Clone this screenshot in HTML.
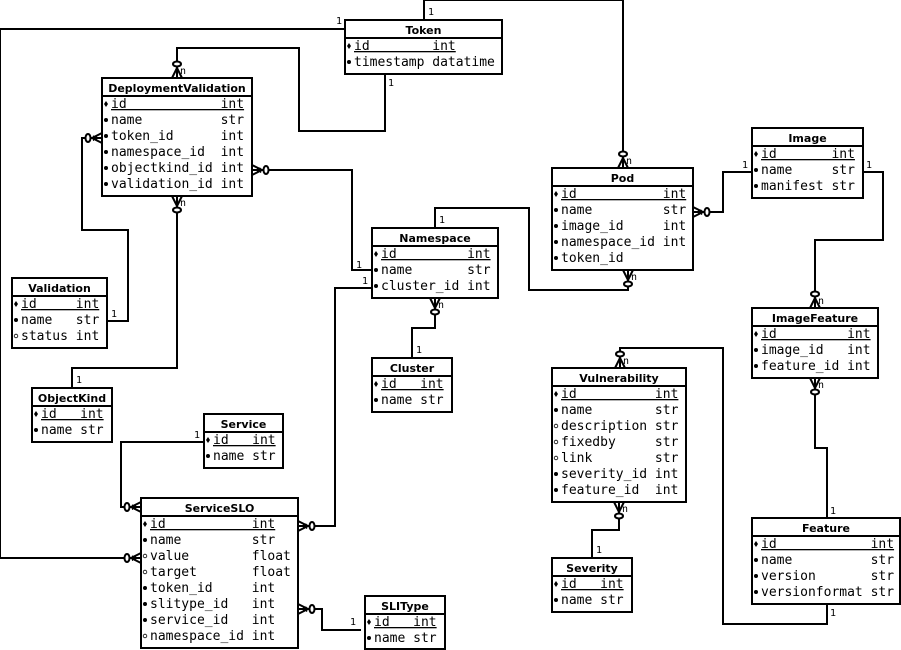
<!DOCTYPE html>
<html><head><meta charset="utf-8"><style>
html,body{margin:0;padding:0;background:#fff;}
svg{display:block;}
.t{font-family:"DejaVu Sans","Liberation Sans",sans-serif;font-weight:bold;font-size:11px;}
.r{font-family:"DejaVu Sans Mono","Liberation Mono",monospace;font-size:13px;white-space:pre;}
.l{font-family:"DejaVu Sans Mono","Liberation Mono",monospace;font-size:10px;}
</style></head><body>
<svg id="s" width="901" height="650" viewBox="0 0 901 650" xmlns="http://www.w3.org/2000/svg"></svg>
<script>
var S=document.getElementById('s'),h='';
var T=[
[345,20,157,54,'Token',[['d','id','int'],['b','timestamp','datatime']]],
[102,78,150,118,'DeploymentValidation',[['d','id','int'],['b','name','str'],['b','token_id','int'],['b','namespace_id','int'],['b','objectkind_id','int'],['b','validation_id','int']]],
[12,278,95,70,'Validation',[['d','id','int'],['b','name','str'],['o','status','int']]],
[32,388,80,54,'ObjectKind',[['d','id','int'],['b','name','str']]],
[204,414,79,54,'Service',[['d','id','int'],['b','name','str']]],
[141,498,157,150,'ServiceSLO',[['d','id','int'],['b','name','str'],['o','value','float'],['o','target','float'],['b','token_id','int'],['b','slitype_id','int'],['b','service_id','int'],['o','namespace_id','int']]],
[365,596,80,53,'SLIType',[['d','id','int'],['b','name','str']]],
[372,228,126,70,'Namespace',[['d','id','int'],['b','name','str'],['b','cluster_id','int']]],
[372,358,80,54,'Cluster',[['d','id','int'],['b','name','str']]],
[552,168,141,102,'Pod',[['d','id','int'],['b','name','str'],['b','image_id','int'],['b','namespace_id','int'],['b','token_id','']]],
[752,128,111,70,'Image',[['d','id','int'],['b','name','str'],['b','manifest','str']]],
[752,308,126,70,'ImageFeature',[['d','id','int'],['b','image_id','int'],['b','feature_id','int']]],
[552,368,134,134,'Vulnerability',[['d','id','int'],['b','name','str'],['o','description','str'],['o','fixedby','str'],['o','link','str'],['b','severity_id','int'],['b','feature_id','int']]],
[552,558,80,54,'Severity',[['d','id','int'],['b','name','str']]],
[752,518,148,86,'Feature',[['d','id','int'],['b','name','str'],['b','version','str'],['b','versionformat','str']]]
];
T.forEach(function(t){
 var x=t[0],y=t[1],w=t[2],H=t[3];
 h+='<rect x="'+x+'" y="'+y+'" width="'+w+'" height="'+H+'" fill="#fff" stroke="#000" stroke-width="2"/>';
 h+='<line x1="'+x+'" y1="'+(y+18)+'" x2="'+(x+w)+'" y2="'+(y+18)+'" stroke="#000" stroke-width="2"/>';
 h+='<text class="t" x="'+(x+w/2)+'" y="'+(y+14)+'" text-anchor="middle">'+t[4]+'</text>';
 var m=0;t[5].forEach(function(r){m=Math.max(m,r[1].length)});
 t[5].forEach(function(r,i){
  var by=y+18+16*i+12, cy=by-4;
  if(r[0]=='d')h+='<path d="M'+(x+4)+' '+(cy-3)+'l2 3l-2 3l-2-3z" fill="#000"/>';
  else if(r[0]=='b')h+='<circle cx="'+(x+4)+'" cy="'+cy+'" r="2" fill="#000"/>';
  else h+='<circle cx="'+(x+4)+'" cy="'+cy+'" r="1.8" fill="none" stroke="#000" stroke-width="0.8"/>';
  var s=r[1];while(s.length<m+1)s+=' ';
  s+=r[2];
  h+='<text class="r" x="'+(x+9)+'" y="'+by+'" xml:space="preserve"'+(r[0]=='d'?' text-decoration="underline"':'')+'>'+s+'</text>';
 });
});
function P(pts){h+='<polyline points="'+pts+'" fill="none" stroke="#000" stroke-width="2"/>';}
function L(x,y,s){h+='<text class="l" x="'+x+'" y="'+y+'">'+s+'</text>';}
function C(x,y,dx,dy){ // endpoint on entity, direction outward
 var px=-dy,py=dx,a=x+dx*10,b=y+dy*10;
 h+='<path d="M'+a+' '+b+'L'+(x+px*5)+' '+(y+py*5)+'M'+a+' '+b+'L'+x+' '+y+'M'+a+' '+b+'L'+(x-px*5)+' '+(y-py*5)+'" stroke="#000" stroke-width="2" fill="none"/>';
 var cx=x+dx*14,cy=y+dy*14;
 h+='<ellipse cx="'+cx+'" cy="'+cy+'" rx="'+(dx?2.5:4)+'" ry="'+(dx?4:2.5)+'" fill="#fff" stroke="#000" stroke-width="2"/>';
 L(x+(dx?dx*4:3)+(dx<0?-6:0),y+(dy?dy*4:-3)+(dy<0?0:6),'n');
}
P('345,29 0,29 0,558 141,558');L(336,24,'1');C(141,558,-1,0);
P('424,20 424,0 623,0 623,168');L(428,15,'1');C(623,168,0,-1);
P('385,74 385,131 299,131 299,48 177,48 177,78');L(388,86,'1');C(177,78,0,-1);
P('107,321 128,321 128,230 82,230 82,138 102,138');L(111,317,'1');C(102,138,-1,0);
P('252,170 352,170 352,270 372,270');L(356,268,'1');C(252,170,1,0);
P('177,196 177,368 72,368 72,388');L(76,383,'1');C(177,196,0,1);
P('435,298 435,328 412,328 412,358');L(416,353,'1');C(435,298,0,1);
P('435,228 435,208 529,208 529,290 628,290 628,270');L(439,223,'1');C(628,270,0,1);
P('372,288 335,288 335,526 298,526');L(362,284,'1');C(298,526,1,0);
P('204,442 121,442 121,507 141,507');L(194,438,'1');C(141,507,-1,0);
P('298,609 322,609 322,630 361,630');L(350,625,'1');C(298,609,1,0);
P('693,212 723,212 723,172 752,172');L(742,168,'1');C(693,212,1,0);
P('863,172 883,172 883,240 815,240 815,308');L(866,168,'1');C(815,308,0,-1);
P('815,378 815,448 827,448 827,518');L(830,514,'1');C(815,378,0,1);
P('827,604 827,624 723,624 723,348 620,348 620,368');L(830,616,'1');C(620,368,0,-1);
P('619,502 619,530 592,530 592,558');L(596,553,'1');C(619,502,0,1);
S.innerHTML=h;
</script>
</body></html>
